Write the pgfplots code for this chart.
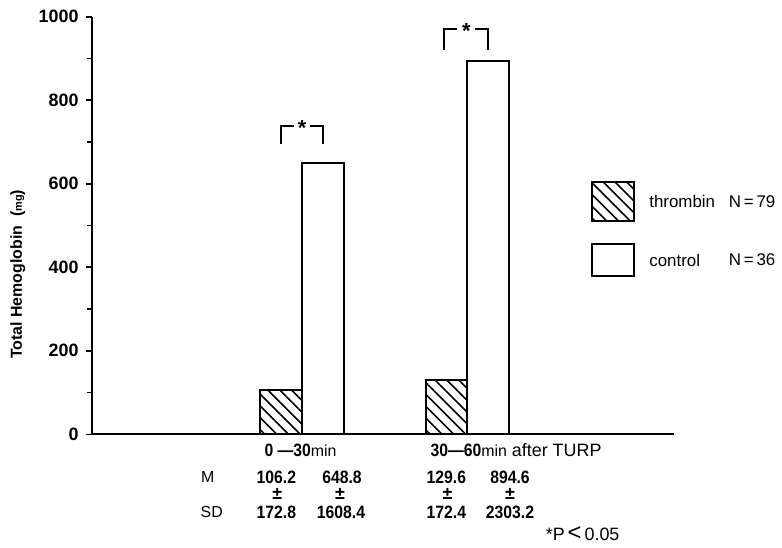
\documentclass[border=0pt]{standalone}
\usepackage{pgfplots}
\pgfplotsset{compat=1.18}
\usepackage{fontspec}
\setmainfont{Liberation Sans}
\usetikzlibrary{patterns.meta}
\newcommand{\cn}[1]{\scalebox{0.88}[1]{#1}}

\begin{document}
\begin{tikzpicture}
\tikzset{hatch/.style={pattern={Lines[angle=-45,distance=4.2pt,line width=0.8pt]}}}
\begin{axis}[
    scale only axis,
    width=292.5pt, height=210pt,
    xmin=0, xmax=585, ymin=0, ymax=1000,
    axis x line=bottom, axis y line=left,
    axis line style={-, line width=1pt},
    xtick=\empty,
    ytick={0,200,...,1000},
    minor ytick={100,300,...,900},
    tick align=outside,
    major tick length=3.5pt, minor tick length=2.5pt,
    every tick/.style={line width=0.8pt, black},
    /pgf/number format/assume math mode=true,
    /pgf/number format/1000 sep={},
    yticklabel style={font=\bfseries\fontsize{9}{10}\selectfont},
    clip=false,
  ]
  % bars: x in units of pixels right of the y axis
  \addplot[ybar, bar width=42, bar shift=0pt, line width=1pt, hatch]
    coordinates {(189.5,106.2) (356.5,129.6)};
  \addplot[ybar, bar width=42, bar shift=0pt, line width=1pt, fill=white]
    coordinates {(231.5,648.8) (398,894.6)};

  % significance brackets
  \draw[line width=1pt] (axis cs:190,695) -- (axis cs:190,738) -- (axis cs:203,738);
  \draw[line width=1pt] (axis cs:219,738) -- (axis cs:232,738) -- (axis cs:232,695);
  \node[font=\bfseries\fontsize{11}{11}\selectfont] at (axis cs:211,733) {*};
  \draw[line width=1pt] (axis cs:354,921) -- (axis cs:354,971) -- (axis cs:367,971);
  \draw[line width=1pt] (axis cs:385,971) -- (axis cs:398,971) -- (axis cs:398,921);
  \node[font=\bfseries\fontsize{11}{11}\selectfont] at (axis cs:376,966) {*};

  % legend
  \draw[line width=1pt, hatch] (axis cs:502,605) rectangle (axis cs:545,510);
  \draw[line width=1pt, fill=white] (axis cs:502,455) rectangle (axis cs:545,379);
  \node[anchor=west, font=\fontsize{8.5}{9}\selectfont] at (axis cs:553,557) {thrombin};
  \node[anchor=west, font=\fontsize{8.5}{9}\selectfont] at (axis cs:633,557) {N\,=\,79};
  \node[anchor=west, font=\fontsize{8.5}{9}\selectfont] at (axis cs:553,417) {control};
  \node[anchor=west, font=\fontsize{8.5}{9}\selectfont] at (axis cs:633,417) {N\,=\,36};

  % y label
  \node[rotate=90, font=\bfseries\fontsize{8}{9}\selectfont] at (axis cs:-75,383)
    {Total Hemoglobin\ \ ({\fontsize{5.5}{6}\selectfont mg})};

  % group labels and statistics table
  \begin{scope}[every node/.style={font=\bfseries\fontsize{9}{10}\selectfont}]
  \node[anchor=west] at (axis cs:166,-38) {\cn{0 —30}{\mdseries\fontsize{8}{9}\selectfont min}};
  \node[anchor=west] at (axis cs:333,-38) {\cn{30—60}{\mdseries\fontsize{8}{9}\selectfont min} {\mdseries after TURP}};
  \node[font=\fontsize{8}{9}\selectfont] at (axis cs:116,-102) {M};
  \node[font=\fontsize{8}{9}\selectfont] at (axis cs:120,-186) {SD};
  \node at (axis cs:185,-102) {\cn{106.2}};
  \node at (axis cs:251,-102) {\cn{648.8}};
  \node at (axis cs:356,-102) {\cn{129.6}};
  \node at (axis cs:420,-102) {\cn{894.6}};
  \node at (axis cs:186,-143) {±};
  \node at (axis cs:249,-143) {±};
  \node at (axis cs:357,-143) {±};
  \node at (axis cs:420,-143) {±};
  \node at (axis cs:185,-186) {\cn{172.8}};
  \node at (axis cs:250,-186) {\cn{1608.4}};
  \node at (axis cs:356,-186) {\cn{172.4}};
  \node at (axis cs:420,-186) {\cn{2303.2}};
  \node[font=\fontsize{9}{10}\selectfont] at (axis cs:493,-238) {*P\,{\fontsize{12}{12}\selectfont<}\,0.05};
  \end{scope}

  % page extent of the reference
  \path (axis cs:-93,1040) rectangle (axis cs:689,-267);
\end{axis}
\end{tikzpicture}
\end{document}
